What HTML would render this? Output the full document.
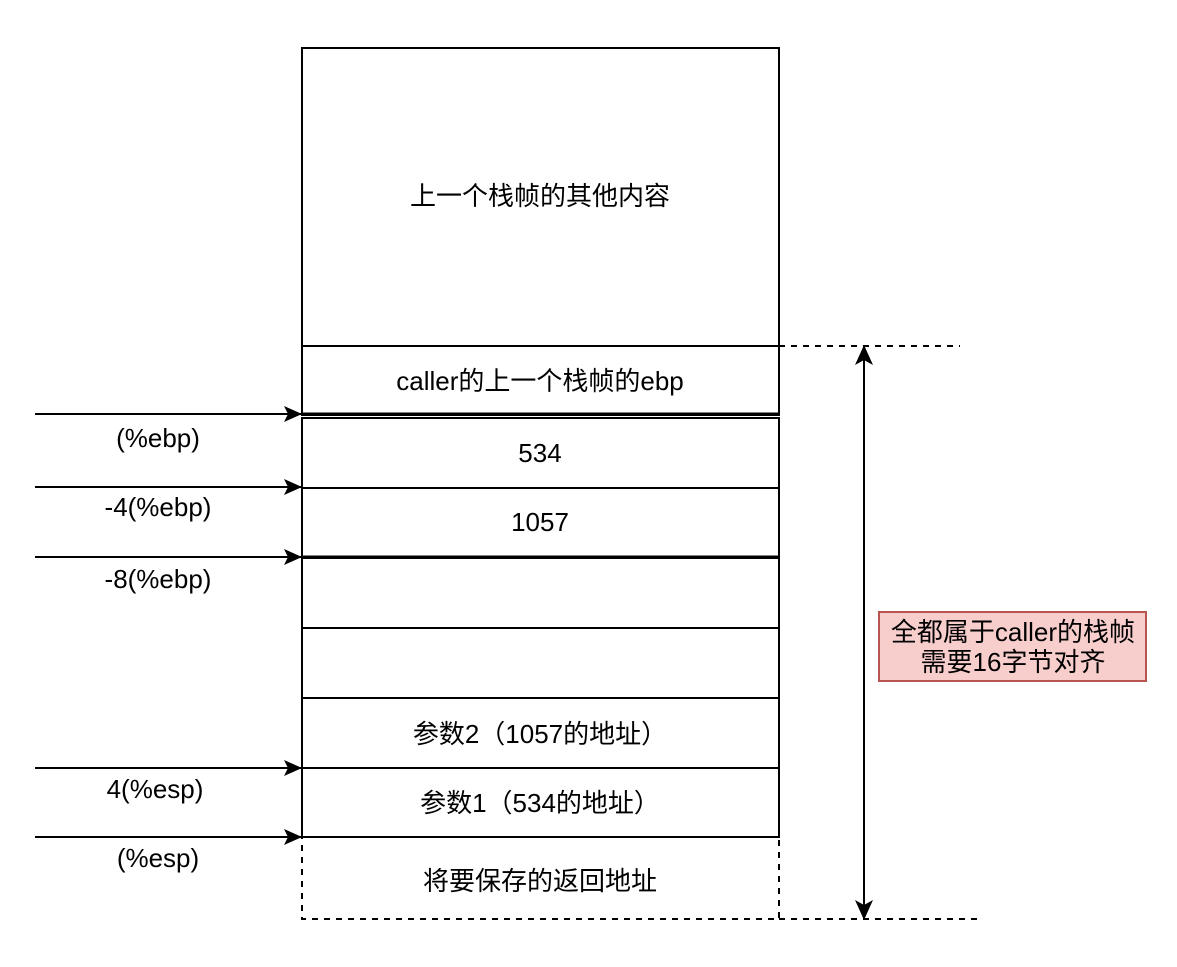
<!DOCTYPE html>
<html><head><meta charset="utf-8"><style>
html,body{margin:0;padding:0;background:#fff;}
svg text{font-family:"Liberation Sans","Noto Sans CJK SC",sans-serif;font-size:26px;fill:#000;}
</style></head><body>
<svg width="1177" height="962" viewBox="0 0 1177 962" xmlns="http://www.w3.org/2000/svg">
<defs>
<marker id="a" markerWidth="18" markerHeight="18" refX="17" refY="9" orient="auto" markerUnits="userSpaceOnUse">
<path d="M0,1 L18,9 L0,17 L4,9 Z" fill="#000"/></marker>
<marker id="b" markerWidth="20" markerHeight="20" refX="18" refY="10" orient="auto" markerUnits="userSpaceOnUse">
<path d="M0,1 L20,10 L0,19 L5,10 Z" fill="#000"/></marker>
</defs>
<g fill="#fff" stroke="#000" stroke-width="2">
<rect x="302" y="48" width="477" height="298"/>
<rect x="302" y="346" width="477" height="69"/>
<rect x="302" y="418" width="477" height="70"/>
<rect x="302" y="488" width="477" height="69"/>
<rect x="302" y="558" width="477" height="70"/>
<rect x="302" y="628" width="477" height="70"/>
<rect x="302" y="698" width="477" height="70"/>
<rect x="302" y="768" width="477" height="69"/>
</g>
<line x1="302" y1="414" x2="779" y2="414" stroke="#000" stroke-width="3"/>
<line x1="302" y1="557" x2="779" y2="557" stroke="#000" stroke-width="3"/>
<rect x="302" y="837" width="477" height="82" fill="none" stroke="#000" stroke-width="2" stroke-dasharray="6,6"/>
<g text-anchor="middle">
<text x="540" y="205">上一个栈帧的其他内容</text>
<text x="540" y="390">caller的上一个栈帧的ebp</text>
<text x="540" y="462">534</text>
<text x="540" y="531">1057</text>
<text x="540" y="743">参数2（1057的地址）</text>
<text x="540" y="812">参数1（534的地址）</text>
<text x="540" y="890">将要保存的返回地址</text>
</g>
<g stroke="#000" stroke-width="2" fill="none">
<line x1="35" y1="414" x2="301" y2="414" marker-end="url(#a)"/>
<line x1="35" y1="487" x2="301" y2="487" marker-end="url(#a)"/>
<line x1="35" y1="557" x2="301" y2="557" marker-end="url(#a)"/>
<line x1="35" y1="768" x2="301" y2="768" marker-end="url(#a)"/>
<line x1="35" y1="837" x2="301" y2="837" marker-end="url(#a)"/>
<line x1="779" y1="346" x2="960" y2="346" stroke-dasharray="6,6"/>
<line x1="779" y1="919" x2="980" y2="919" stroke-dasharray="6,6"/>
<line x1="864" y1="362" x2="864" y2="903"/>
<line x1="864" y1="400" x2="864" y2="347" marker-end="url(#b)"/>
<line x1="864" y1="880" x2="864" y2="918" marker-end="url(#b)"/>
</g>
<g text-anchor="middle">
<text x="158" y="447">(%ebp)</text>
<text x="158" y="516">-4(%ebp)</text>
<text x="158" y="588">-8(%ebp)</text>
<text x="155" y="798">4(%esp)</text>
<text x="158" y="867">(%esp)</text>
</g>
<rect x="879" y="612" width="267" height="69" fill="#f8cecc" stroke="#b85450" stroke-width="2"/>
<g text-anchor="middle">
<text x="1013" y="641">全都属于caller的栈帧</text>
<text x="1013" y="671">需要16字节对齐</text>
</g>
</svg>
</body></html>
